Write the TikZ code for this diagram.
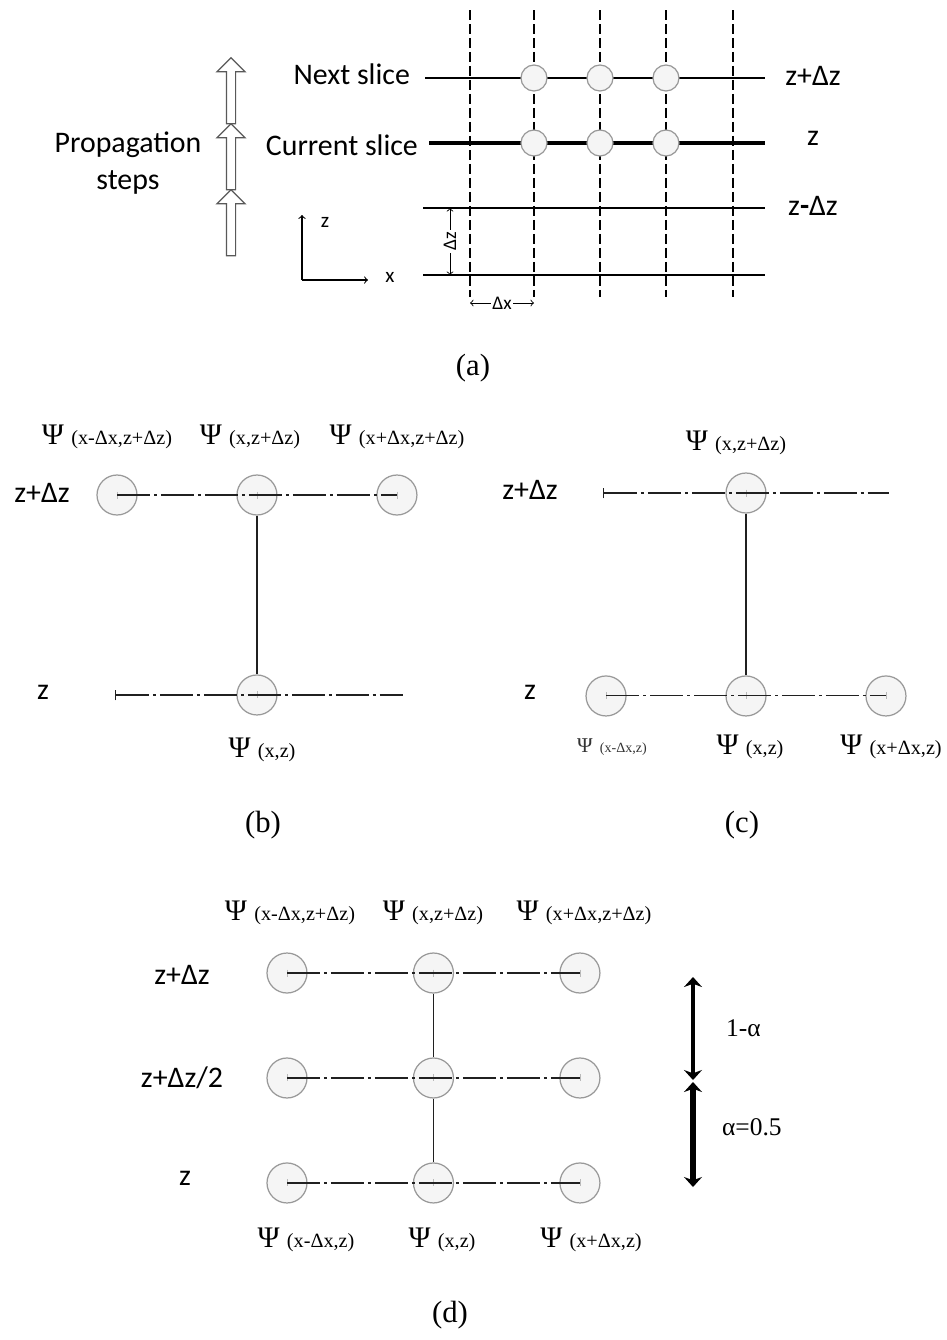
\documentclass[tikz,border=0pt]{standalone}
\usepackage{fontspec}
\setmainfont{Liberation Serif}
\newfontfamily\calib{Carlito}
\usetikzlibrary{positioning}
\usetikzlibrary{arrows,arrows.meta}
\usetikzlibrary{shapes.arrows}

\tikzset{grid point/.style={
    circle, draw=gray!80, fill=gray!8, line width=0.7pt,
    minimum size=0.52cm, inner sep=0pt
  },
  psi point/.style={
    grid point, minimum size=0.8cm,
    path picture={
      \draw[gray!55,line width=0.3pt]
        ([yshift=0.07cm]path picture bounding box.center) --
        ([yshift=-0.07cm]path picture bounding box.center);
    }
  },
  step arrow/.style={
    single arrow, draw=gray!70!black, fill=white, line width=0.7pt,
    rotate=90, inner sep=0.08cm,
    single arrow head extend=0.19cm,
    minimum height=1.32cm
  },
  grid dash/.style={line width=0.7pt, dash pattern=on 0.2cm off 0.08cm},
  slice line/.style={line width=0.8pt},
  dash dot/.style={gray!25!black, line width=0.6pt,
    dash pattern=on 0.66cm off 0.08cm on 0.06cm off 0.08cm},
  stem/.style={gray!25!black, line width=0.8pt},
  side label/.style={font=\calib\fontsize{17}{21}\selectfont, inner sep=1pt},
  axis label/.style={font=\calib\fontsize{12}{14}\selectfont, inner sep=1pt},
  dim label/.style={font=\calib\fontsize{11}{13}\selectfont, fill=white, inner sep=1pt},
  cap label/.style={font=\fontsize{17.5}{20}\selectfont},
  weight label/.style={font=\fontsize{14.5}{17}\selectfont, anchor=west, inner sep=1pt}
}
\newcommand{\psilab}[1]{{\fontsize{17}{18}\selectfont Ψ}\, {\fontsize{11.5}{13}\selectfont #1}}
\newcommand{\psismall}[1]{{\fontsize{12}{13}\selectfont Ψ}\, {\fontsize{8}{9}\selectfont #1}}

\begin{document}
\begin{tikzpicture}[x=0.02cm,y=-0.02cm]
  \useasboundingbox (0,0) rectangle (947,1340);

  % (a) slices on the grid
  \begin{scope}[node distance=1.32cm,>=to]
    \foreach \gx in {470,534,600,666,733}
      \draw[grid dash] (\gx,10) -- (\gx,297);
    \draw[slice line] (425,78) -- (765,78);
    \draw[slice line,line width=2.2pt] (429,143) -- (765,143);
    \draw[slice line] (423,208) -- (765,208);
    \draw[slice line] (423,275) -- (765,275);

    \node[grid point]              (ns1) at (534,78) {};
    \node[grid point,right of=ns1] (ns2) {};
    \node[grid point,right of=ns2] (ns3) {};
    \node[grid point,below of=ns1,node distance=1.3cm] (cs1) {};
    \node[grid point,right of=cs1] (cs2) {};
    \node[grid point,right of=cs2] (cs3) {};

    \node[side label,anchor=east] (next) at (412,74) {Next slice};
    \node[side label,anchor=east] (curr) at (420,145) {Current slice};
    \node[side label] (zp) at (813,76) {z+Δz};
    \node[side label] (z0) at (813,138) {z};
    \node[side label] (zm) at (813,206) {z\textbf{-}Δz};

    % rotated nodes, so placed at coordinates
    \node[step arrow] (step1) at (231,225) {};
    \node[step arrow] (step2) at (231,159) {};
    \node[step arrow] (step3) at (231,93) {};
    \node[side label,align=center] (prop) at (128,163) {Propagation\\steps};

    \coordinate (ax0) at (302,280);
    \coordinate (axz) at (302,215);
    \coordinate (axx) at (368,280);
    \draw[->,line width=0.6pt] (ax0) -- (axz);
    \draw[->,line width=0.6pt] (ax0) -- (axx);
    \node[axis label] (lz) at (325,222) {z};
    \node[axis label] (lx) at (390,277) {x};

    \coordinate (dzt) at (450,208);
    \coordinate (dzb) at (450,275);
    \draw[<->,line width=0.5pt] (dzt) -- node[dim label,rotate=90] {Δz} (dzb);
    \coordinate (dxl) at (470,303);
    \coordinate (dxr) at (534,303);
    \draw[<->,line width=0.5pt] (dxl) -- node[dim label] {Δx} (dxr);

    \node[cap label] (capa) at (473,368) {(a)};
  \end{scope}

  % (b) explicit step
  \begin{scope}[node distance=2.8cm]
    \node[psi point]              (b11) at (117,495) {};
    \node[psi point,right of=b11] (b12) {};
    \node[psi point,right of=b12] (b13) {};
    \node[psi point,below of=b12,node distance=4cm] (b22) {};
    \coordinate (bl) at (115,695);
    \coordinate (br) at (403,695);

    \draw[dash dot] (b11.center) -- (b13.center);
    \draw[dash dot,{Bar[width=6pt]}-] (bl) -- (br);
    \draw[stem] (b12) -- (b22);

    \node (pb11) at (107,437) {\psilab{(x-Δx,z+Δz)}};
    \node (pb12) at (250,437) {\psilab{(x,z+Δz)}};
    \node (pb13) at (397,437) {\psilab{(x+Δx,z+Δz)}};
    \node (pb22) at (262,750) {\psilab{(x,z)}};

    \node[side label] (bzp) at (42,493) {z+Δz};
    \node[side label] (bz0) at (43,692) {z};
    \node[cap label] (capb) at (263,825) {(b)};
  \end{scope}

  % (c) implicit step
  \begin{scope}[node distance=2.8cm]
    \node[psi point] (c12) at (746,493) {};
    \node[psi point,below of=c12,node distance=4.06cm] (c22) {};
    \node[psi point,left of=c22]  (c21) {};
    \node[psi point,right of=c22] (c23) {};
    \coordinate (cl) at (603,493);
    \coordinate (cr) at (889,493);

    \draw[dash dot,{Bar[width=6pt]}-] (cl) -- (cr);
    \draw[dash dot] (c21.center) -- (c23.center);
    \draw[stem] (c12) -- (c22);

    \node (pc12) at (736,443) {\psilab{(x,z+Δz)}};
    \node[text=gray!40!black] (pc21) at (612,747) {\psismall{(x-Δx,z)}};
    \node (pc22) at (750,747) {\psilab{(x,z)}};
    \node (pc23) at (891,747) {\psilab{(x+Δx,z)}};

    \node[side label] (czp) at (530,490) {z+Δz};
    \node[side label] (cz0) at (530,692) {z};
    \node[cap label] (capc) at (742,825) {(c)};
  \end{scope}

  % (d) Crank-Nicolson
  \begin{scope}[node distance=2.93cm]
    \node[psi point]              (d11) at (287,973) {};
    \node[psi point,right of=d11] (d12) {};
    \node[psi point,right of=d12] (d13) {};
    \node[psi point,below of=d11,node distance=2.1cm] (d21) {};
    \node[psi point,right of=d21] (d22) {};
    \node[psi point,right of=d22] (d23) {};
    \node[psi point,below of=d21,node distance=2.1cm] (d31) {};
    \node[psi point,right of=d31] (d32) {};
    \node[psi point,right of=d32] (d33) {};

    \foreach \r in {1,2,3}
      \draw[dash dot] (d\r1.center) -- (d\r3.center);
    \draw[stem] (d12) -- (d22);
    \draw[stem] (d22) -- (d32);

    \node (pd11) at (290,913) {\psilab{(x-Δx,z+Δz)}};
    \node (pd12) at (433,913) {\psilab{(x,z+Δz)}};
    \node (pd13) at (584,913) {\psilab{(x+Δx,z+Δz)}};
    \node (pd31) at (306,1240) {\psilab{(x-Δx,z)}};
    \node (pd32) at (442,1240) {\psilab{(x,z)}};
    \node (pd33) at (591,1240) {\psilab{(x+Δx,z)}};

    \node[side label] (dzp) at (182,975) {z+Δz};
    \node[side label] (dzh) at (182,1078) {z+Δz/2};
    \node[side label] (dz0) at (185,1178) {z};

    \coordinate (wt) at (693,977);
    \coordinate (wm1) at (693,1080);
    \coordinate (wm2) at (693,1082);
    \coordinate (wb) at (693,1187);
    \draw[{Stealth[length=0.2cm,width=0.36cm]}-{Stealth[length=0.2cm,width=0.36cm]},line width=2.4pt] (wt) -- (wm1);
    \draw[{Stealth[length=0.2cm,width=0.36cm]}-{Stealth[length=0.2cm,width=0.36cm]},line width=3.8pt] (wm2) -- (wb);
    \node[weight label] (w1) at (724,1028) {1-α};
    \node[weight label] (w2) at (720,1127) {α=0.5};

    \node[cap label] (capd) at (450,1315) {(d)};
  \end{scope}
\end{tikzpicture}
\end{document}
